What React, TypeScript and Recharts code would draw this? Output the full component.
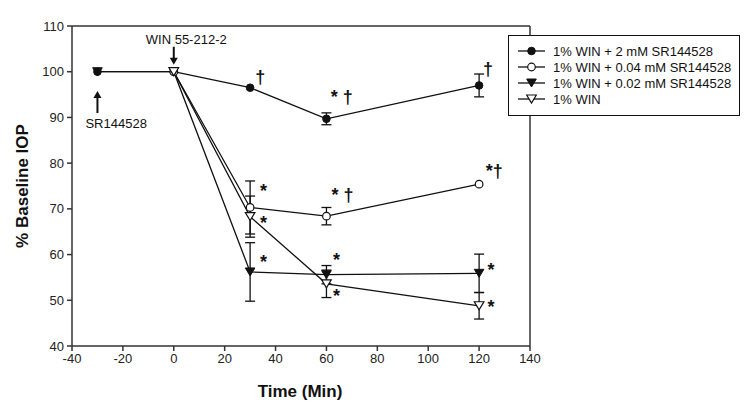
import React from 'react';
import { LineChart, Line, XAxis, YAxis, ErrorBar, ReferenceLine, ReferenceDot } from 'recharts';

// ---------- data ----------
const s1Time = [-30, 0, 30, 60, 120];
const s1Iop = [100, 100, 96.5, 89.7, 97.0];
const s1Err: (number | null)[] = [null, null, null, 1.3, 2.5];

const s2Time = [0, 30, 60, 120];
const s2Iop = [100, 70.3, 68.4, 75.4];
const s2Err: (number | null)[] = [null, 5.8, 1.9, null];

const s3Time = [-30, 0, 30, 60, 120];
const s3Iop = [100, 100, 56.2, 55.6, 55.9];
const s3Err: (number | null)[] = [null, null, 6.4, 2.0, 4.2];

const s4Time = [0, 30, 60, 120];
const s4Iop = [100, 68.3, 53.6, 48.8];
const s4Err: (number | null)[] = [null, 4.5, 3.0, 2.9];

const seriesNames = [
  '1% WIN + 2 mM SR144528',
  '1% WIN + 0.04 mM SR144528',
  '1% WIN + 0.02 mM SR144528',
  '1% WIN',
];

const xTicks = [-40, -20, 0, 20, 40, 60, 80, 100, 120, 140];
const yTicks = [40, 50, 60, 70, 80, 90, 100, 110];

// significance marks (x, y in data units, text)
const markX = [34, 66, 123.5, 35.3, 66.3, 126, 35.3, 35.3, 64, 64, 124.7, 124.7];
const markY = [99.3, 94.9, 101, 74.3, 73.5, 78.7, 67.3, 58.8, 59.2, 51.4, 57, 49];
const markText = ['†', '* †', '†', '*', '* †', '*†', '*', '*', '*', '*', '*', '*'];

// arrow annotations
const arrowX = [0, -30];
const arrowY = [101.3, 96.0];
const arrowDir = ['down', 'up'];
const arrowLabel = ['WIN 55-212-2', 'SR144528'];

const build = (t: number[], v: number[], e: (number | null)[]) =>
  t.map((x, i) => ({ time: x, iop: v[i], err: e[i] }));

const d1 = build(s1Time, s1Iop, s1Err);
const d2 = build(s2Time, s2Iop, s2Err);
const d3 = build(s3Time, s3Iop, s3Err);
const d4 = build(s4Time, s4Iop, s4Err);

const INK = '#111';
const FONT = 'Arial, "Liberation Sans", Helvetica, sans-serif';

type Kind = 'fc' | 'oc' | 'ft' | 'ot';
const kinds: Kind[] = ['fc', 'oc', 'ft', 'ot'];

const Marker = ({ cx, cy, kind }: { cx: number; cy: number; kind: Kind }) => {
  if (cx == null || cy == null) return null;
  if (kind === 'fc') return <circle cx={cx} cy={cy} r={3.8} fill={INK} stroke={INK} strokeWidth={1} />;
  if (kind === 'oc') return <circle cx={cx} cy={cy} r={3.8} fill="#fff" stroke={INK} strokeWidth={1.2} />;
  const w = 4.8, h = 8;
  const p = `M${cx - w},${cy - h / 2} L${cx + w},${cy - h / 2} L${cx},${cy + h / 2} Z`;
  if (kind === 'ft') return <path d={p} fill={INK} stroke={INK} strokeWidth={1} />;
  return <path d={p} fill="#fff" stroke={INK} strokeWidth={1.2} />;
};

const dotFor = (kind: Kind) => (props: any) => (
  <Marker key={`${kind}-${props.index}`} cx={props.cx} cy={props.cy} kind={kind} />
);

const LegendBox = () => (
  <div
    style={{
      position: 'absolute',
      left: 508,
      top: 35,
      width: 232,
      height: 81,
      border: `1.5px solid ${INK}`,
      background: '#fff',
      boxSizing: 'border-box',
    }}
  >
    <svg width={229} height={78} style={{ display: 'block' }}>
      {seriesNames.map((n, i) => {
        const y = 15 + i * 16;
        return (
          <g key={n}>
            <line x1={9} x2={36} y1={y} y2={y} stroke={INK} strokeWidth={1.3} />
            <Marker cx={22.5} cy={y} kind={kinds[i]} />
            <text x={44} y={y + 4.5} fontSize={13} fontFamily={FONT} fill={INK}>
              {n}
            </text>
          </g>
        );
      })}
    </svg>
  </div>
);

const markShape = (text: string) => (props: any) => (
  <text
    x={props.cx}
    y={props.cy + 8}
    textAnchor="middle"
    fontSize={18}
    fontWeight="bold"
    fontFamily={FONT}
    fill={INK}
  >
    {text}
  </text>
);

const arrowShape = (dir: string, label: string) => (props: any) => {
  const { cx, cy } = props;
  if (dir === 'down') {
    return (
      <g>
        <line x1={cx} x2={cx} y1={cy - 19} y2={cy - 6} stroke={INK} strokeWidth={2} />
        <path d={`M${cx - 4},${cy - 8} L${cx + 4},${cy - 8} L${cx},${cy - 1} Z`} fill={INK} />
        <text x={cx - 28} y={cy - 22} textAnchor="start" fontSize={13} fontFamily={FONT} fill={INK}>
          {label}
        </text>
      </g>
    );
  }
  return (
    <g>
      <line x1={cx} x2={cx} y1={cy + 6} y2={cy + 23} stroke={INK} strokeWidth={2} />
      <path d={`M${cx - 4},${cy + 8} L${cx + 4},${cy + 8} L${cx},${cy + 1} Z`} fill={INK} />
      <text x={cx - 12} y={cy + 38} textAnchor="start" fontSize={13} fontFamily={FONT} fill={INK}>
        {label}
      </text>
    </g>
  );
};

const tickStyle = { fontSize: 13, fontFamily: FONT, fill: '#222' };

export default function App() {
  return (
    <div style={{ position: 'absolute', left: 0, top: 0, width: 750, height: 409, background: '#fff' }}>
      <LineChart
        width={750}
        height={409}
        margin={{ top: 26, right: 220, bottom: 33, left: 0 }}
      >
        <XAxis
          dataKey="time"
          type="number"
          domain={[-40, 140]}
          ticks={xTicks}
          allowDataOverflow
          height={30}
          stroke="#333"
          strokeWidth={1.5}
          tickSize={5}
          tick={tickStyle}
          tickMargin={3}
          label={() => (
            <text x={300} y={397} textAnchor="middle" fontSize={17} fontWeight="bold" fontFamily={FONT} fill={INK}>
              Time (Min)
            </text>
          )}
        />
        <YAxis
          type="number"
          domain={[40, 110]}
          ticks={yTicks}
          allowDataOverflow
          width={72}
          stroke="#333"
          strokeWidth={1.5}
          tickSize={5}
          tick={tickStyle}
          tickMargin={3}
          label={() => (
            <text
              x={28}
              y={186}
              transform="rotate(-90 28 186)"
              textAnchor="middle"
              fontSize={17}
              fontWeight="bold"
              fontFamily={FONT}
              fill={INK}
            >
              % Baseline IOP
            </text>
          )}
        />
        <ReferenceLine y={110} stroke="#333" strokeWidth={1.5} />
        <ReferenceLine x={140} stroke="#333" strokeWidth={1.5} />
        <Line data={d1} dataKey="iop" name={seriesNames[0]} stroke={INK} strokeWidth={1.3} dot={dotFor('fc')} isAnimationActive={false}>
          <ErrorBar dataKey="err" direction="y" width={5} stroke={INK} strokeWidth={1.3} />
        </Line>
        <Line data={d2} dataKey="iop" name={seriesNames[1]} stroke={INK} strokeWidth={1.3} dot={dotFor('oc')} isAnimationActive={false}>
          <ErrorBar dataKey="err" direction="y" width={5} stroke={INK} strokeWidth={1.3} />
        </Line>
        <Line data={d3} dataKey="iop" name={seriesNames[2]} stroke={INK} strokeWidth={1.3} dot={dotFor('ft')} isAnimationActive={false}>
          <ErrorBar dataKey="err" direction="y" width={5} stroke={INK} strokeWidth={1.3} />
        </Line>
        <Line data={d4} dataKey="iop" name={seriesNames[3]} stroke={INK} strokeWidth={1.3} dot={dotFor('ot')} isAnimationActive={false}>
          <ErrorBar dataKey="err" direction="y" width={5} stroke={INK} strokeWidth={1.3} />
        </Line>
        {markX.map((x, i) => (
          <ReferenceDot key={`m${i}`} x={x} y={markY[i]} r={0} shape={markShape(markText[i])} />
        ))}
        {arrowX.map((x, i) => (
          <ReferenceDot key={`a${i}`} x={x} y={arrowY[i]} r={0} shape={arrowShape(arrowDir[i], arrowLabel[i])} />
        ))}
      </LineChart>
      <LegendBox />
    </div>
  );
}
